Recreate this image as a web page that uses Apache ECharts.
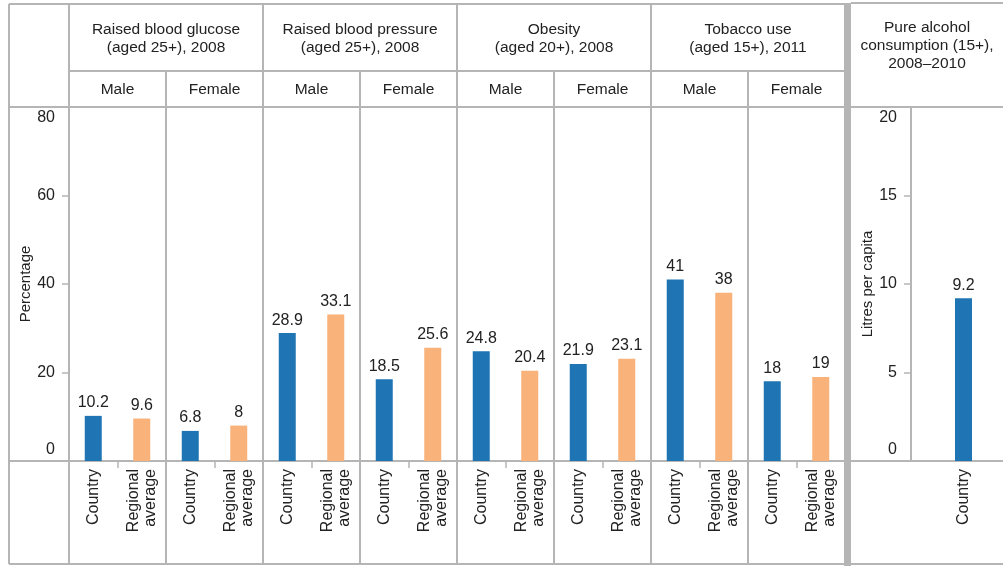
<!DOCTYPE html>
<html>
<head>
<meta charset="utf-8">
<script src="https://cdn.jsdelivr.net/npm/echarts@6/dist/echarts.min.js"></script>
<style>
html,body{margin:0;padding:0;background:#fff;overflow:hidden;}
#chart{width:1020px;height:567px;}
</style>
</head>
<body>
<div id="chart"></div>
<script>
// ---- data ----
const groupTitles = ['Raised blood glucose\n(aged 25+), 2008', 'Raised blood pressure\n(aged 25+), 2008', 'Obesity\n(aged 20+), 2008', 'Tobacco use\n(aged 15+), 2011'];
const sexes = ['Male', 'Female'];
const categories = ['Country', 'Regional\naverage'];
const glucoseMale = [10.2, 9.6];
const glucoseFemale = [6.8, 8];
const pressureMale = [28.9, 33.1];
const pressureFemale = [18.5, 25.6];
const obesityMale = [24.8, 20.4];
const obesityFemale = [21.9, 23.1];
const tobaccoMale = [41, 38];
const tobaccoFemale = [18, 19];
const alcoholTitle = 'Pure alcohol\nconsumption (15+),\n2008\u20132010';
const alcoholCategories = ['Country'];
const alcoholValues = [9.2];
const pctAxis = { min: 0, max: 80, interval: 20, name: 'Percentage' };
const litreAxis = { min: 0, max: 20, interval: 5, name: 'Litres per capita' };

// ---- layout / style ----
const FONT = "'Liberation Sans', Arial, sans-serif";
const BLUE = '#1f74b4', ORANGE = '#f8b27a';
const LINE = '#b5b5b5', TXT = '#222';
const X0 = 9, XA = 69, PW = 97, XSEP = 845;
const Y0 = 4, Y1 = 71, Y2 = 107, YB = 461, YE = 564;
const AX2 = 911, XR = 1020, XVIEW = 1003;

const panels = [glucoseMale, glucoseFemale, pressureMale, pressureFemale, obesityMale, obesityFemale, tobaccoMale, tobaccoFemale];

const grids = [], xAxes = [], yAxes = [], series = [];
function addPanel(gridPos, cats, values, axisDef, showY, showXTicks) {
  const i = grids.length;
  grids.push(Object.assign({ top: Y2, height: YB - Y2, containLabel: false }, gridPos));
  xAxes.push({
    gridIndex: i, type: 'category', data: cats,
    axisLine: { show: true, lineStyle: { color: LINE, width: 2 } },
    axisTick: { show: showXTicks, length: 7, lineStyle: { color: LINE, width: 1.5 } },
    axisLabel: { rotate: 90, margin: 8, fontSize: 16, lineHeight: 17, color: TXT, fontFamily: FONT }
  });
  yAxes.push({
    gridIndex: i, type: 'value', min: axisDef.min, max: axisDef.max, interval: axisDef.interval,
    show: showY,
    name: showY ? axisDef.name : '', nameLocation: 'middle', nameGap: 35, nameRotate: 90,
    nameTextStyle: { fontSize: 15, color: TXT, fontFamily: FONT },
    axisLine: { show: true, lineStyle: { color: LINE, width: 2 } },
    axisTick: { show: true, length: 7, lineStyle: { color: LINE, width: 1.5 } },
    axisLabel: { margin: 14, fontSize: 16, lineHeight: 22, color: TXT, fontFamily: FONT,
      verticalAlignMaxLabel: 'top', verticalAlignMinLabel: 'bottom' },
    splitLine: { show: false }
  });
  series.push({
    type: 'bar', xAxisIndex: i, yAxisIndex: i, data: values, barWidth: 17,
    itemStyle: { color: p => p.dataIndex === 0 ? BLUE : ORANGE },
    label: { show: true, position: 'top', distance: 5, fontSize: 16, color: TXT, fontFamily: FONT }
  });
}
panels.forEach((vals, k) => addPanel({ left: XA + k * PW, width: PW }, categories, vals, pctAxis, k === 0, true));
addPanel({ left: AX2, width: 105 }, alcoholCategories, alcoholValues, litreAxis, true, false);

// ---- table decoration ----
const graphic = [];
function hline(y, x1, x2) { graphic.push({ type: 'line', silent: true, z: 0, shape: { x1: x1, y1: y, x2: x2, y2: y }, style: { stroke: LINE, lineWidth: 2 } }); }
function vline(x, y1, y2) { graphic.push({ type: 'line', silent: true, z: 0, shape: { x1: x, y1: y1, x2: x, y2: y2 }, style: { stroke: LINE, lineWidth: 2 } }); }
function text(x, y, t) { graphic.push({ type: 'text', silent: true, x: x, y: y, style: { text: t, fill: TXT, font: '15.5px ' + FONT, textAlign: 'center', textVerticalAlign: 'middle', lineHeight: 18 } }); }

hline(Y0, X0, XSEP); hline(Y1, XA, XSEP); hline(Y2, X0, XSEP); hline(YB, X0, XSEP); hline(YE, X0, XSEP);
hline(Y0 - 1, XSEP + 6, XR); hline(Y2, XSEP + 6, XR); hline(YB, XSEP + 6, XR); hline(YE, XSEP + 6, XR);
vline(X0, Y0, YE);
for (let k = 0; k < 8; k++) {
  vline(XA + k * PW, k % 2 === 0 ? Y0 : Y1, YE);
}
vline(AX2, Y2, YB);
graphic.push({ type: 'rect', silent: true, z: 0, shape: { x: XSEP - 1, y: Y0 - 1, width: 7, height: 567 - Y0 }, style: { fill: LINE } });

groupTitles.forEach((t, g) => text(XA + (2 * g + 1) * PW, (Y0 + Y1) / 2 + 1, t));
for (let k = 0; k < 8; k++) text(XA + (k + 0.5) * PW, (Y1 + Y2) / 2 + 1, sexes[k % 2]);
text((XSEP + 6 + XVIEW) / 2, 46, alcoholTitle);

const chart = echarts.init(document.getElementById('chart'), null, { renderer: 'canvas' });
chart.setOption({
  animation: false,
  backgroundColor: '#fff',
  textStyle: { fontFamily: FONT },
  grid: grids, xAxis: xAxes, yAxis: yAxes, series: series,
  graphic: graphic
});
</script>
</body>
</html>
